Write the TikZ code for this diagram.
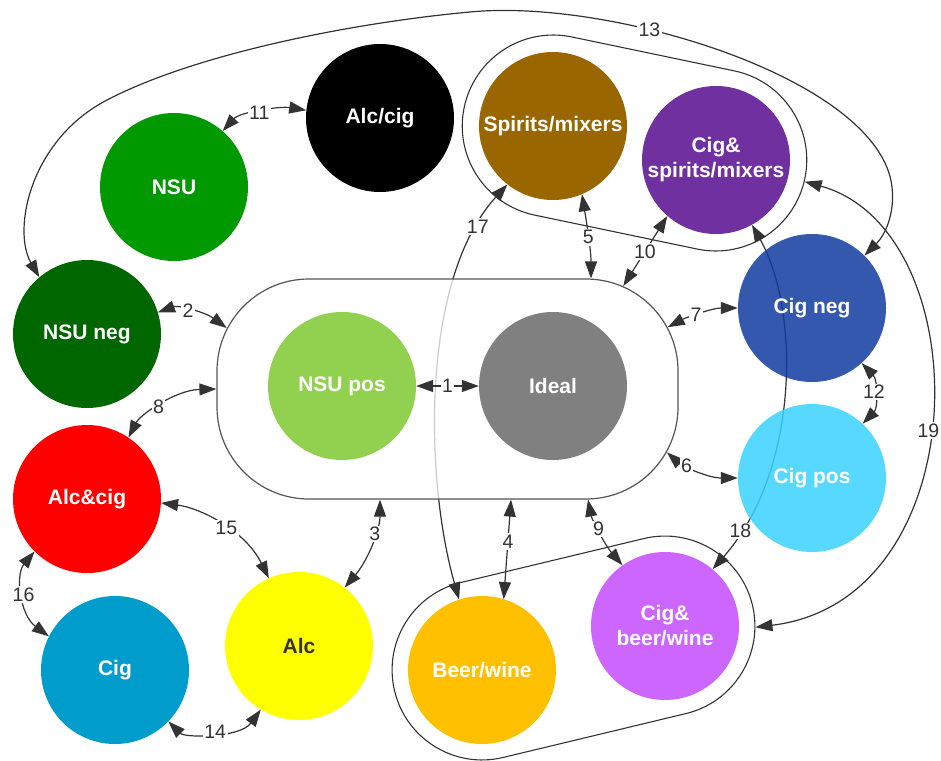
\documentclass[tikz,border=0pt]{standalone}
\usepackage{fontspec}
\setmainfont{Liberation Sans}
\usetikzlibrary{arrows.meta,shapes.misc,calc}
\definecolor{ink}{HTML}{333333}
\definecolor{gline}{HTML}{555555}
\definecolor{cBlack}{HTML}{000000}
\definecolor{cNSU}{HTML}{009900}
\definecolor{cSpirits}{HTML}{996600}
\definecolor{cCigSp}{HTML}{7030A0}
\definecolor{cNSUneg}{HTML}{006600}
\definecolor{cNSUpos}{HTML}{92D050}
\definecolor{cIdeal}{HTML}{808080}
\definecolor{cCigneg}{HTML}{0F3BA0}
\definecolor{cCigpos}{HTML}{39D1FF}
\definecolor{cAlcCig}{HTML}{FF0000}
\definecolor{cCig}{HTML}{009DCC}
\definecolor{cAlc}{HTML}{FFFF00}
\definecolor{cBeer}{HTML}{FFC000}
\definecolor{cCigBeer}{HTML}{CC66FF}
\pgfdeclarelayer{bg}
\pgfdeclarelayer{mid}
\pgfsetlayers{bg,mid,main}
\begin{document}
\begin{tikzpicture}[x=1pt,y=-1pt,
  disc/.style={circle,minimum size=148pt,inner sep=0pt,draw=none,text=white,
    font=\bfseries\fontsize{21}{25}\selectfont,align=center},
  conn/.style={draw=ink,line width=1.2pt,
    {Triangle[length=17pt,width=12pt]}-{Triangle[length=17pt,width=12pt]}},
  lbl/.style={fill=white,inner sep=1.5pt,text=ink,font=\fontsize{19.5}{23}\selectfont},
  grp/.style={rounded rectangle,draw=ink,line width=1.1pt,inner sep=0pt}]
\useasboundingbox (0,0) rectangle (941,760);

% central group
\begin{pgfonlayer}{mid}
\node[draw=gline,line width=1.2pt,fill=white,fill opacity=0.75,rounded corners=92pt,
  minimum width=461pt,minimum height=220pt,inner sep=0pt] (stad) at (447.5,389) {};
\end{pgfonlayer}

% outer groups
\node[grp,minimum width=348pt,minimum height=182pt,rotate=-11.8] (topgrp) at (634.5,143) {};
\node[grp,minimum width=368pt,minimum height=180pt,rotate=13.5] (botgrp) at (573.5,648) {};

% circles
\node[disc,fill=cBlack] (alccigb) at (380,118) {Alc/cig};
\node[disc,fill=cNSU] (nsu) at (174,187) {NSU};
\node[disc,fill=cSpirits] (spirits) at (553,126) {Spirits/mixers};
\node[disc,fill=cCigSp] (cigsp) at (716,160) {Cig\&\\spirits/mixers};
\node[disc,fill=cNSUneg] (nsuneg) at (87,334) {NSU neg};
\node[disc,fill=cNSUpos] (nsupos) at (342,386) {NSU pos};
\node[disc,fill=cIdeal] (ideal) at (553,386) {Ideal};
\node[disc,fill=cCigneg,fill opacity=0.85,text opacity=1] (cigneg) at (812,308) {Cig neg};
\node[disc,fill=cCigpos,fill opacity=0.85,text opacity=1] (cigpos) at (812,478) {Cig pos};
\node[disc,fill=cAlcCig] (alcandcig) at (87,499) {Alc\&cig};
\node[disc,fill=cCig] (cig) at (115,670) {Cig};
\node[disc,fill=cAlc,text=ink] (alc) at (299,646) {Alc};
\node[disc,fill=cBeer] (beer) at (482,670) {Beer/wine};
\node[disc,fill=cCigBeer] (cigbeer) at (665,626) {Cig\&\\beer/wine};

% points on the central group border
\coordinate (s2) at ($(stad.north west)+(10.3,49.6)$);
\coordinate (s3) at ($(stad.south)+(-67.5,0)$);
\coordinate (s4) at ($(stad.south)+(63.5,0)$);
\coordinate (s9) at ($(stad.south)+(140.5,0)$);
\coordinate (s5) at ($(stad.north)+(143.5,0)$);
\coordinate (s10) at ($(stad.north east)+(-55.3,7.6)$);
\coordinate (s7) at ($(stad.north east)+(-10.8,48.8)$);
\coordinate (s6) at ($(stad.south east)+(-11.6,-47.2)$);

% connectors lying under shapes
\begin{pgfonlayer}{bg}
\draw[conn] (spirits.232) .. controls (420,280) and (425,480) .. node[lbl,pos=0.13]{17} (beer.108);
\draw[conn] (cigsp.-61) .. controls (800,310) and (800,470) .. node[lbl,pos=0.88]{18} (cigbeer.50);
\end{pgfonlayer}

% connectors
\draw[conn] (nsupos) -- node[lbl]{1} (ideal);
\draw[conn] (nsuneg.17) .. controls (178,305) and (205,312) .. node[lbl,pos=0.45]{2} (s2);
\draw[conn] (s3) .. controls (380,530) and (368,560) .. node[lbl,pos=0.38]{3} (alc.52);
\draw[conn] (s4) -- node[lbl,pos=0.42]{4} (beer.73);
\draw[conn] (spirits.-67) .. controls (587,225) and (591,250) .. node[lbl,pos=0.5]{5} (s5);
\draw[conn] (s6) .. controls (682,466) and (708,478) .. node[lbl,pos=0.35]{6} (cigpos.west);
\draw[conn] (s7) .. controls (685,318) and (712,308) .. node[lbl,pos=0.45]{7} (cigneg.west);
\draw[conn] (alcandcig.56) .. controls (140,415) and (175,390) .. node[lbl,pos=0.47]{8} (stad.west);
\draw[conn] (s9) .. controls (592,520) and (605,545) .. node[lbl,pos=0.45]{9} (cigbeer.125);
\draw[conn] (s10) -- node[lbl,pos=0.49]{10} (cigsp.229);
\draw[conn] (nsu.49) .. controls (240,112) and (280,106) .. node[lbl,pos=0.48]{11} (alccigb.174);
\draw[conn] (cigneg.-48) .. controls (878,380) and (878,408) .. node[lbl,pos=0.47]{12} (cigpos.47);
\draw[conn] (nsuneg.130) .. controls (12,230) and (30,140) .. (107,100)
  .. controls (199,52) and (360,22) .. (470,12)
  .. controls (613,-2) and (880,80) .. node[lbl,pos=0.35]{13} (892,187)
  .. controls (895,214) and (885,235) .. (cigneg.45);
\draw[conn] (cig.-44) .. controls (185,738) and (240,738) .. node[lbl,pos=0.52]{14} (alc.-121);
\draw[conn] (alcandcig.-3) .. controls (200,508) and (245,530) .. node[lbl,pos=0.55]{15} (alc.114);
\draw[conn] (alcandcig.225) .. controls (15,575) and (20,615) .. node[lbl,pos=0.5]{16} (cig.153);
\draw[conn] (topgrp.-1) .. controls (980,230) and (980,600) .. node[lbl,pos=0.53]{19} (botgrp.-7);
\end{tikzpicture}
\end{document}
